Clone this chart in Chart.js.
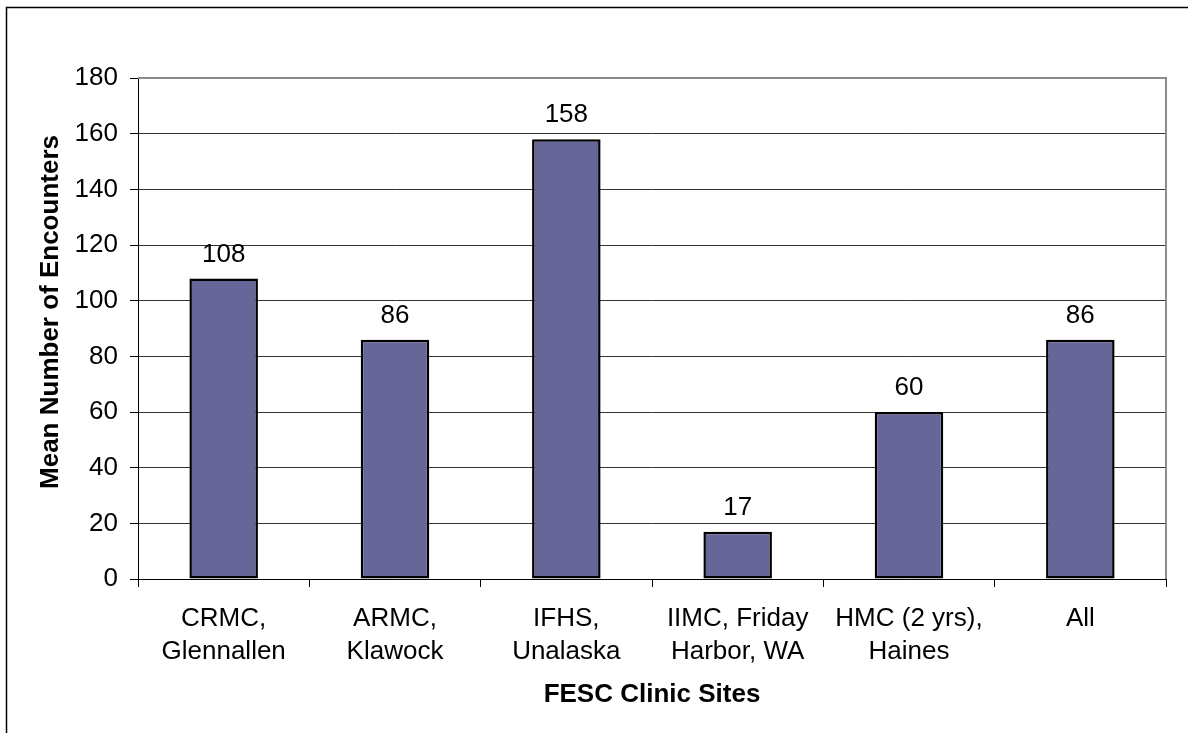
<!DOCTYPE html>
<html>
<head>
<meta charset="utf-8">
<script src="https://cdn.jsdelivr.net/npm/chart.js@4/dist/chart.umd.min.js"></script>
<style>
  html, body { margin: 0; padding: 0; background: #fff; }
  canvas { display: block; }
</style>
</head>
<body>
<canvas id="chart" width="1188" height="733"></canvas>
<script>
// Clinic sites (two-line labels) and their mean encounter counts
const categories = [
  ["CRMC,", "Glennallen"],
  ["ARMC,", "Klawock"],
  ["IFHS,", "Unalaska"],
  ["IIMC, Friday", "Harbor, WA"],
  ["HMC (2 yrs),", "Haines"],
  ["All"]
];
const encounters = [108, 86, 158, 17, 60, 86];
const yTicks = [0, 20, 40, 60, 80, 100, 120, 140, 160, 180];
const xTitle = "FESC Clinic Sites";
const yTitle = "Mean Number of Encounters";

const FONT = "'Liberation Sans', Arial, Helvetica, sans-serif";
const tickFont = { family: FONT, size: 26, lineHeight: 1.27 };

// Gray frame on the top and right of the plot, plus the outer chart border
const framePlugin = {
  id: 'frame',
  afterDraw(chart) {
    const { ctx, chartArea: a } = chart;
    ctx.save();
    ctx.strokeStyle = '#8c8c8c';
    ctx.lineWidth = 2;
    ctx.beginPath();
    ctx.moveTo(a.left, a.top);
    ctx.lineTo(a.right, a.top);
    ctx.lineTo(a.right, a.bottom);
    ctx.stroke();
    ctx.strokeStyle = '#000';
    ctx.lineWidth = 1.5;
    ctx.beginPath();
    ctx.moveTo(6.5, chart.height + 5);
    ctx.lineTo(6.5, 7.5);
    ctx.lineTo(chart.width + 5, 7.5);
    ctx.stroke();
    ctx.restore();
  }
};

// Value labels above each bar
const valueLabels = {
  id: 'valueLabels',
  afterDatasetsDraw(chart) {
    const { ctx } = chart;
    const meta = chart.getDatasetMeta(0);
    ctx.save();
    ctx.font = `26px ${FONT}`;
    ctx.fillStyle = '#000';
    ctx.textAlign = 'center';
    ctx.textBaseline = 'bottom';
    meta.data.forEach((bar, i) => {
      ctx.fillText(String(encounters[i]), bar.x, bar.y - 11);
    });
    ctx.restore();
  }
};

// Axis titles
const axisTitles = {
  id: 'axisTitles',
  afterDraw(chart) {
    const { ctx, chartArea: a } = chart;
    ctx.save();
    ctx.font = `bold 26px ${FONT}`;
    ctx.fillStyle = '#000';
    ctx.textAlign = 'center';
    ctx.textBaseline = 'middle';
    ctx.fillText(xTitle, (a.left + a.right) / 2, 695);
    ctx.translate(51, 312);
    ctx.rotate(-Math.PI / 2);
    ctx.fillText(yTitle, 0, 0);
    ctx.restore();
  }
};

new Chart(document.getElementById('chart'), {
  type: 'bar',
  data: {
    labels: categories,
    datasets: [{
      data: encounters,
      backgroundColor: '#666699',
      borderColor: '#000',
      borderWidth: 2.5,
      borderSkipped: false,
      categoryPercentage: 1.0,
      barPercentage: 0.4
    }]
  },
  options: {
    responsive: false,
    animation: false,
    devicePixelRatio: 1,
    layout: { padding: { top: 78, right: 22, left: 0, bottom: 0 } },
    plugins: {
      legend: { display: false },
      tooltip: { enabled: false },
      title: { display: false }
    },
    scales: {
      x: {
        offset: true,
        grid: {
          offset: true,
          drawOnChartArea: false,
          drawTicks: true,
          tickLength: 8,
          tickColor: '#000',
          tickWidth: 1
        },
        border: { display: true, color: '#000', width: 1 },
        ticks: {
          font: tickFont,
          color: '#000',
          padding: 15,
          maxRotation: 0,
          autoSkip: false
        },
        afterFit(scale) { scale.height = 154; }
      },
      y: {
        min: 0,
        max: 180,
        afterBuildTicks(scale) {
          scale.ticks = yTicks.map(v => ({ value: v }));
        },
        grid: {
          color: '#333333',
          lineWidth: 1,
          drawTicks: true,
          tickLength: 8,
          tickColor: '#000'
        },
        border: { display: true, color: '#000', width: 1 },
        ticks: {
          font: { family: FONT, size: 26 },
          color: '#000',
          padding: 12
        },
        afterFit(scale) { scale.width = 138; }
      }
    }
  },
  plugins: [framePlugin, valueLabels, axisTitles]
});
</script>
</body>
</html>
